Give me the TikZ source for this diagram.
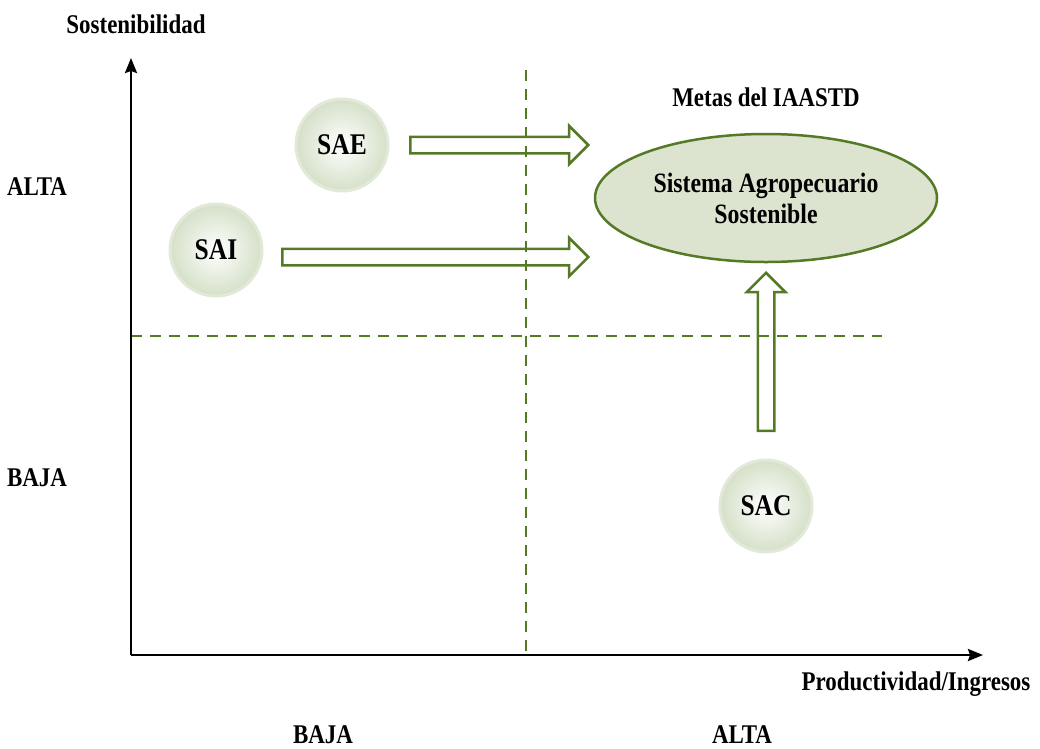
\documentclass[tikz,border=0pt]{standalone}
\usepackage{fontspec}
\setmainfont{Liberation Serif}[FakeStretch=0.85]
\usetikzlibrary{arrows.meta,shapes.arrows,shapes.geometric,positioning}

\definecolor{leafgreen}{RGB}{84,122,38}
\definecolor{goalfill}{RGB}{220,228,208}
\definecolor{ballring}{RGB}{226,233,217}
\definecolor{ballmid}{RGB}{238,243,233}
\definecolor{balledge}{RGB}{178,198,155}
\pgfdeclareradialshading{ballshade}{\pgfpoint{0bp}{0bp}}{color(0bp)=(white); color(10bp)=(ballmid); color(45bp)=(balledge); color(50bp)=(balledge)}

\tikzset{
  lbl/.style={font=\bfseries\fontsize{27}{31}\selectfont, inner sep=0pt, align=center},
  ball/.style={circle, minimum size=92pt, inner sep=0pt, draw=ballring, line width=3pt,
    shading=ballshade, font=\bfseries\fontsize{30}{34}\selectfont},
  goal/.style={ellipse, draw=leafgreen, line width=2.5pt, fill=goalfill,
    minimum width=342pt, minimum height=128pt, inner sep=0pt,
    font=\bfseries\fontsize{28}{31}\selectfont, align=center},
  flow/.style={single arrow, draw=leafgreen, line width=2.5pt, inner xsep=0pt, inner ysep=7pt,
    text height=0pt, text depth=0pt, single arrow head extend=11pt, single arrow tip angle=90},
  axisline/.style={line width=2.5pt, -{Stealth[length=15pt,width=12pt,inset=2pt]}},
  split/.style={leafgreen, line width=2pt, dash pattern=on 11pt off 8pt}
}

\begin{document}
\begin{tikzpicture}[x=1pt, y=-1pt]
  \useasboundingbox (0,0) rectangle (1040,748);

  % axes
  \coordinate (origin) at (131,655);
  \coordinate (ytip) at (131,58);
  \coordinate (xtip) at (983,655);

  % axis labels
  \node[lbl] (ytitle) at (136,24) {Sostenibilidad};
  \node[lbl] (yhigh) at (37,187) {ALTA};
  \node[lbl] (ylow) at (37,478) {BAJA};
  \node[lbl] (xtitle) at (916,684) {Productividad/Ingresos};
  \node[lbl] (xlow) at (323,735) {BAJA};
  \node[lbl] (xhigh) at (742,735) {ALTA};

  % farming systems
  \node[ball] (sae) at (342,145) {SAE};
  \node[ball] (sai) at (216,250) {SAI};
  \node[ball] (sac) at (766,506) {SAC};

  % goal
  \node[goal] (target) at (766,198) {Sistema Agropecuario\\Sostenible};
  \node[lbl] (targettitle) at (766,97) {Metas del IAASTD};

  % block arrows towards the goal
  \node[flow, minimum height=178pt, anchor=tail] (saeflow) at (409,145) {};
  \node[flow, minimum height=306pt, anchor=tail] (saiflow) at (281,257) {};
  \node[flow, minimum height=158pt, anchor=tail, rotate=90] (sacflow) at (766,432) {};

  % quadrant split
  \coordinate (splittop) at (526,70);
  \coordinate (splitbottom) at (526,655);
  \coordinate (splitright) at (882,336);
  \draw[split] (splittop) -- (splitbottom);
  \draw[split] (origin |- splitright) -- (splitright);

  \draw[axisline] (origin) -- (ytip);
  \draw[axisline] (origin) -- (xtip);

\end{tikzpicture}
\end{document}
